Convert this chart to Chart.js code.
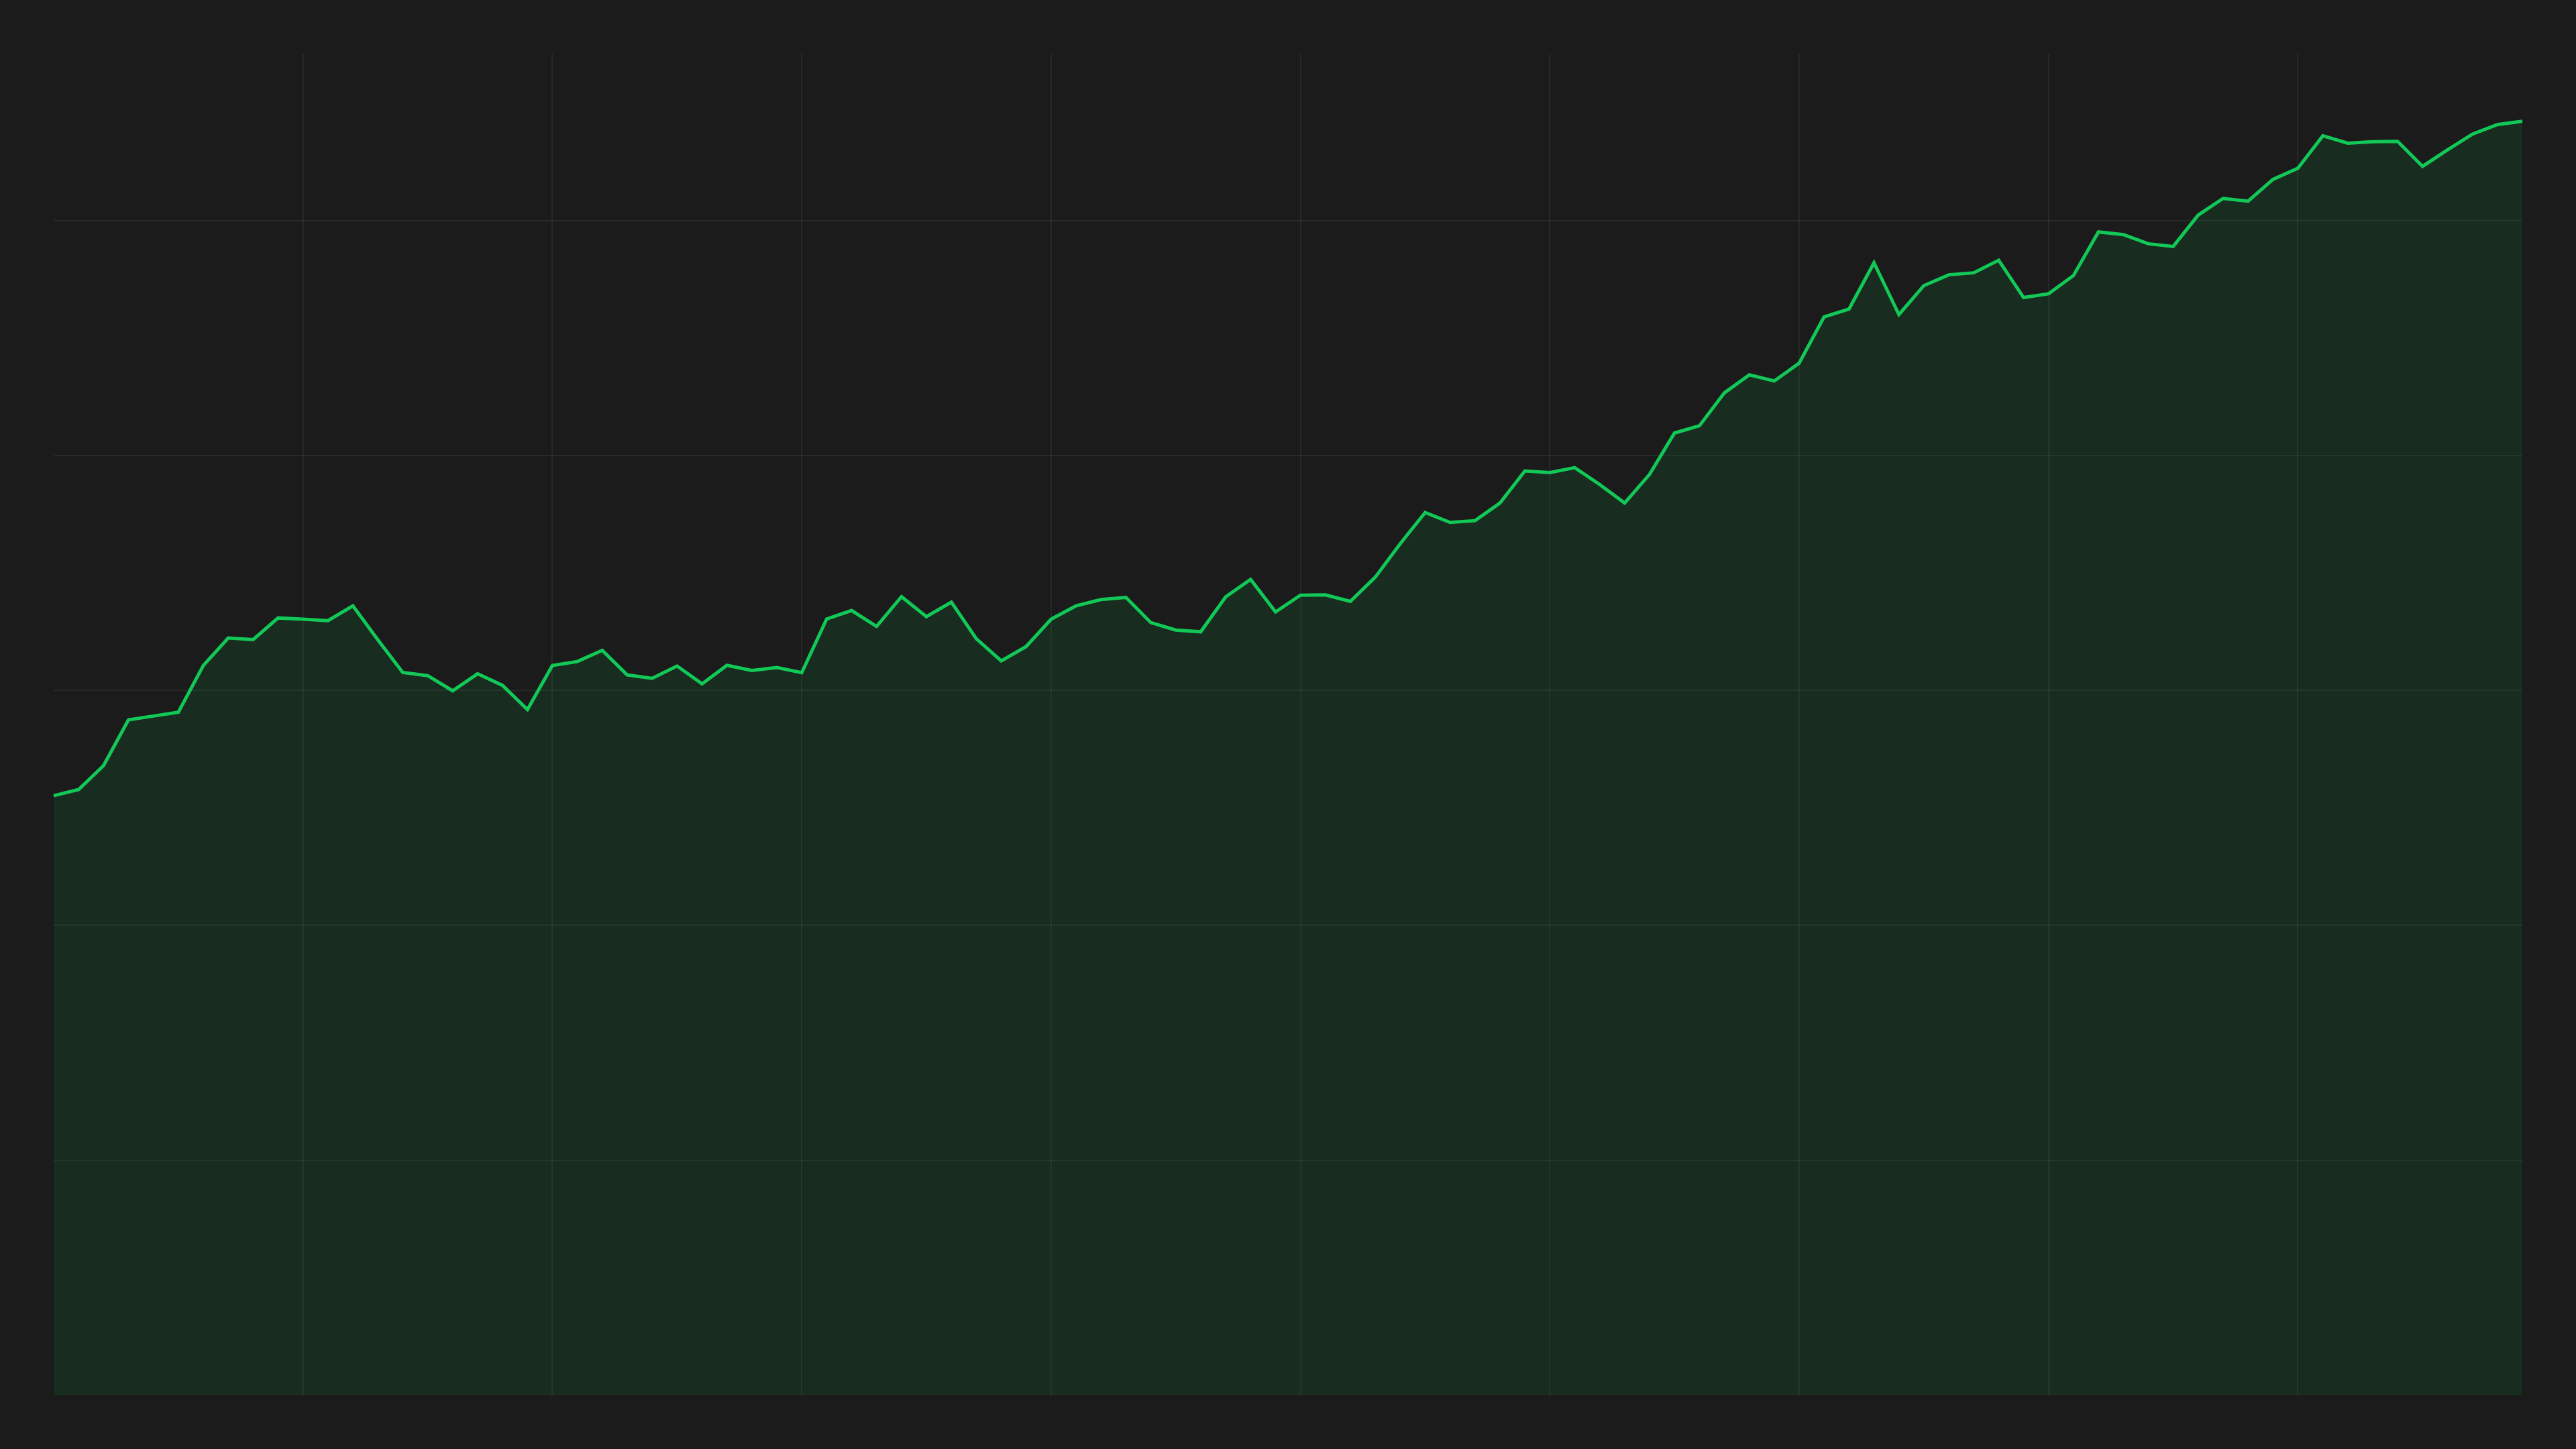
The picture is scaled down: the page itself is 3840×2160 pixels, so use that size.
<!DOCTYPE html>
<html>
<head>
<meta charset="utf-8">
<script src="https://cdn.jsdelivr.net/npm/chart.js@4"></script>
<style>
  html, body { margin: 0; padding: 0; background: #1b1b1b; }
  #wrap { width: 3840px; height: 2160px; position: relative; }
</style>
</head>
<body>
<div id="wrap"><canvas id="c"></canvas></div>
<script>
const categories = [
  '1','2','3','4','5','6','7','8','9','10',
  '11','12','13','14','15','16','17','18','19','20',
  '21','22','23','24','25','26','27','28','29','30',
  '31','32','33','34','35','36','37','38','39','40',
  '41','42','43','44','45','46','47','48','49','50',
  '51','52','53','54','55','56','57','58','59','60',
  '61','62','63','64','65','66','67','68','69','70',
  '71','72','73','74','75','76','77','78','79','80',
  '81','82','83','84','85','86','87','88','89','90',
  '91','92','93','94','95','96','97','98','99','100'
];

const seriesValues = [
  51.04, 51.56, 53.60, 57.50, 57.82, 58.15, 62.12, 64.46, 64.33, 66.17,
  66.06, 65.94, 67.20, 64.31, 61.53, 61.26, 59.97, 61.42, 60.43, 58.37,
  62.12, 62.46, 63.41, 61.32, 61.03, 62.08, 60.56, 62.14, 61.70, 61.95,
  61.51, 66.08, 66.80, 65.45, 67.98, 66.28, 67.52, 64.40, 62.52, 63.74,
  66.06, 67.20, 67.73, 67.92, 65.77, 65.14, 64.99, 67.96, 69.45, 66.68,
  68.11, 68.13, 67.58, 69.64, 72.49, 75.15, 74.30, 74.45, 75.95, 78.68,
  78.54, 78.96, 77.53, 75.95, 78.39, 81.91, 82.53, 85.33, 86.86, 86.34,
  87.86, 91.80, 92.47, 96.40, 91.99, 94.46, 95.38, 95.55, 96.62, 93.44,
  93.76, 95.32, 99.03, 98.80, 98.02, 97.79, 100.46, 101.88, 101.64, 103.50,
  104.45, 107.21, 106.58, 106.70, 106.74, 104.61, 106.01, 107.35, 108.16, 108.45
];

const yMin = 0;
const yMax = 114.2;
const yStep = 20;
const xGridEvery = 10;

const gridColor = 'rgba(255,255,255,0.06)';

new Chart(document.getElementById('c'), {
  type: 'line',
  data: {
    labels: categories,
    datasets: [{
      data: seriesValues,
      borderColor: '#12c958',
      backgroundColor: 'rgba(0,200,83,0.10)',
      borderWidth: 5,
      fill: 'origin',
      tension: 0,
      pointRadius: 0,
      pointHoverRadius: 0
    }]
  },
  options: {
    responsive: true,
    maintainAspectRatio: false,
    animation: false,
    devicePixelRatio: 1,
    layout: { padding: 80 },
    plugins: {
      legend: { display: false },
      tooltip: { enabled: false }
    },
    scales: {
      x: {
        type: 'category',
        offset: false,
        border: { display: false },
        ticks: { display: false },
        grid: {
          drawTicks: false,
          lineWidth: 2,
          color: (ctx) => (ctx.index > 0 && ctx.index % xGridEvery === 0) ? gridColor : 'rgba(0,0,0,0)'
        }
      },
      y: {
        min: yMin,
        max: yMax,
        border: { display: false },
        ticks: { display: false, stepSize: yStep },
        grid: {
          drawTicks: false,
          lineWidth: 2,
          color: (ctx) => (ctx.tick && ctx.tick.value > yMin && ctx.tick.value <= 100) ? gridColor : 'rgba(0,0,0,0)'
        }
      }
    }
  }
});
</script>
</body>
</html>
